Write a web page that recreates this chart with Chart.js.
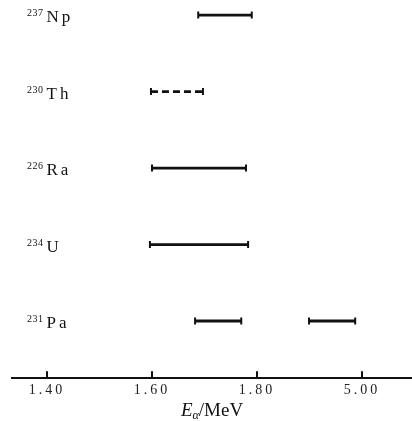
<!DOCTYPE html>
<html>
<head>
<meta charset="utf-8">
<script src="https://cdn.jsdelivr.net/npm/chart.js@4/dist/chart.umd.min.js"></script>
<style>
  html, body { margin: 0; padding: 0; background: #fff; }
  #wrap { width: 412px; height: 421px; }
</style>
</head>
<body>
<div id="wrap"><canvas id="c"></canvas></div>
<script>
// nuclides, top to bottom
const masses = ['237', '230', '226', '234', '231'];
const symbols = ['Np', 'Th', 'Ra', 'U', 'Pa'];
const rows = [5, 4, 3, 2, 1];

// energy ranges (MeV), one entry per segment
const segSymbol = ['Np', 'Th', 'Ra', 'U', 'Pa', 'Pa'];
const segStart = [1.688, 1.598, 1.600, 1.596, 1.682, 1.899];
const segEnd = [1.790, 1.697, 1.779, 1.783, 1.770, 1.987];

// axis ticks
const xTicks = [1.40, 1.60, 1.80, 2.00];
const xTickLabels = ['1.40', '1.60', '1.80', '5.00'];

const dashedSymbol = 'Th';
const ink = '#111';
const serif = '"Liberation Serif", "DejaVu Serif", serif';

const datasets = segSymbol.map((s, i) => {
  const row = rows[symbols.indexOf(s)];
  return {
    label: s,
    data: [{ x: segStart[i], y: row }, { x: segEnd[i], y: row }],
    showLine: true,
    borderColor: ink,
    backgroundColor: ink,
    borderWidth: 2.8,
    borderDash: s === dashedSymbol ? [7, 4] : [],
    pointStyle: 'line',
    rotation: 90,
    pointRadius: 3.5,
    pointBorderWidth: 2,
    pointHoverRadius: 3.5
  };
});

// nuclide names on the left, with mass number raised
const nuclideLabels = {
  id: 'nuclideLabels',
  afterDraw(chart) {
    const { ctx } = chart;
    const y = chart.scales.y;
    ctx.save();
    ctx.fillStyle = ink;
    ctx.textBaseline = 'alphabetic';
    ctx.textAlign = 'left';
    masses.forEach((m, i) => {
      const py = y.getPixelForValue(rows[i]);
      ctx.font = '10px ' + serif;
      ctx.letterSpacing = '0.5px';
      ctx.fillText(m, 27, py + 1);
      const w = ctx.measureText(m).width;
      ctx.font = '17px ' + serif;
      ctx.letterSpacing = '3px';
      ctx.fillText(symbols[i], 27 + w + 3, py + 7);
    });
    ctx.restore();
  }
};

// wider spacing for the tick labels, like the printed figure
const spacedTicks = {
  id: 'spacedTicks',
  beforeDraw(chart) { chart.ctx.letterSpacing = '3px'; },
  beforeDatasetsDraw(chart) { chart.ctx.letterSpacing = '0px'; }
};

// short tick marks pointing up from the axis, plus axis title
const axisExtras = {
  id: 'axisExtras',
  afterDraw(chart) {
    const { ctx, chartArea } = chart;
    const x = chart.scales.x;
    ctx.save();
    ctx.strokeStyle = ink;
    ctx.lineWidth = 2;
    xTicks.forEach(v => {
      const px = x.getPixelForValue(v);
      ctx.beginPath();
      ctx.moveTo(px, chartArea.bottom);
      ctx.lineTo(px, chartArea.bottom - 7);
      ctx.stroke();
    });
    // title: italic E, subscript alpha, /MeV
    const cx = (chartArea.left + chartArea.right) / 2;
    const by = 416;
    ctx.fillStyle = ink;
    ctx.textBaseline = 'alphabetic';
    const parts = [
      { t: 'E', f: 'italic 19px ' + serif, dy: 0 },
      { t: 'α', f: 'italic 12px ' + serif, dy: 3 },
      { t: '/MeV', f: '19px ' + serif, dy: 0 }
    ];
    let total = 0;
    parts.forEach(p => { ctx.font = p.f; p.w = ctx.measureText(p.t).width; total += p.w; });
    let px = cx - total / 2;
    parts.forEach(p => {
      ctx.font = p.f;
      ctx.fillText(p.t, px, by + p.dy);
      px += p.w;
    });
    ctx.restore();
  }
};

new Chart(document.getElementById('c'), {
  type: 'scatter',
  data: { datasets },
  options: {
    responsive: true,
    maintainAspectRatio: false,
    animation: false,
    layout: { autoPadding: false, padding: { left: 12, right: 0, top: 0, bottom: 18 } },
    plugins: {
      legend: { display: false },
      tooltip: { enabled: false }
    },
    scales: {
      x: {
        type: 'linear',
        min: 1.3333,
        max: 2.0952,
        afterBuildTicks: (scale) => { scale.ticks = xTicks.map(v => ({ value: v })); },
        grid: { display: false, drawTicks: false },
        border: { display: true, color: ink, width: 2 },
        ticks: {
          padding: 4,
          color: '#222',
          font: { family: serif, size: 14 },
          maxRotation: 0,
          callback: (v) => xTickLabels[xTicks.findIndex(t => Math.abs(t - v) < 1e-6)]
        }
      },
      y: {
        type: 'linear',
        display: false,
        min: 0.2525,
        max: 5.197
      }
    }
  },
  plugins: [spacedTicks, nuclideLabels, axisExtras]
});
</script>
</body>
</html>
